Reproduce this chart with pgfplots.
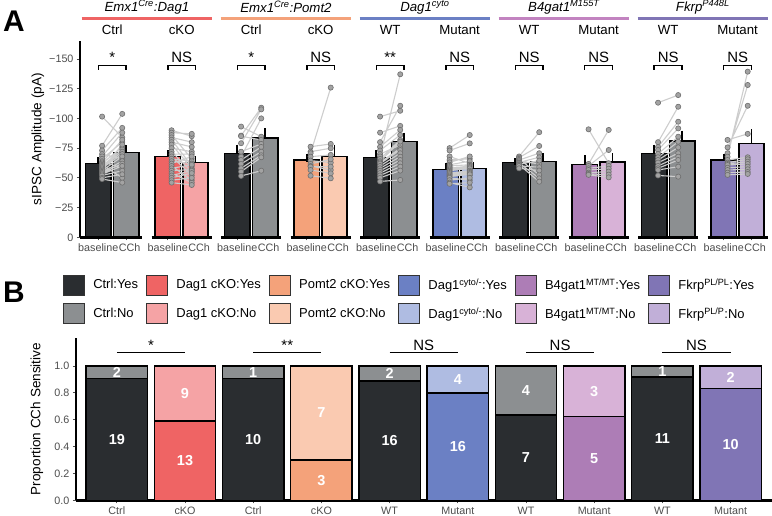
\documentclass[border=0pt]{standalone}
\usepackage{pgfplots}
\pgfplotsset{compat=1.18}
\usepackage{fontspec}
\setmainfont{Liberation Sans}
\definecolor{cDark}{HTML}{2A2D30}
\definecolor{cGray}{HTML}{8C8F91}
\definecolor{cRed}{HTML}{EF6464}
\definecolor{cPink}{HTML}{F5A3A5}
\definecolor{cOrange}{HTML}{F4A27A}
\definecolor{cPeach}{HTML}{FACAB1}
\definecolor{cBlue}{HTML}{6B80C4}
\definecolor{cLBlue}{HTML}{AFBCE2}
\definecolor{cPurple}{HTML}{AD7DB6}
\definecolor{cLPurple}{HTML}{D8B2D7}
\definecolor{cViolet}{HTML}{8075B5}
\definecolor{cLViolet}{HTML}{C1AFD8}
\definecolor{lB4}{HTML}{C283C0}
\definecolor{tickgray}{HTML}{4D4D4D}
\definecolor{ptfill}{HTML}{A3A3A3}
\definecolor{ptdraw}{HTML}{6E6E6E}
\definecolor{lngray}{HTML}{CDCDCD}
\pgfplotsset{
  barA/.style={ybar, bar width=0.365, bar shift=0pt, draw=black, line width=1.6bp, forget plot,
    error bars/y dir=minus, error bars/y explicit,
    error bars/error bar style={line width=1.6bp, black},
    error bars/error mark options={mark size=3.6bp, line width=1.6bp, black}},
  pts/.style={forget plot, color=lngray, line width=1.1bp, mark=*, mark size=2.6bp,
    mark options={fill=ptfill, draw=ptdraw, line width=0.6bp}, unbounded coords=jump},
  barB/.style={ybar, bar width=0.9, bar shift=0pt, draw=black, line width=1.4bp, forget plot},
}
\newcommand{\tickfont}{\fontsize{10.8}{12}\selectfont}
\newcommand{\hdfont}{\fontsize{13.3}{15}\selectfont}
\newcommand{\sigfont}{\fontsize{15}{15}\selectfont}
\newcommand{\bl}{baseline\hspace{6bp}}
\newcommand{\cc}{\hspace{7bp}CCh}
\begin{document}
\begin{tikzpicture}
\path[use as bounding box] (0,0) rectangle (772bp,516bp);
\node[font=\fontsize{30}{30}\selectfont\bfseries] at (14bp,495bp) {A};
\node[font=\fontsize{30}{30}\selectfont\bfseries] at (14bp,224bp) {B};

% ---------------- Panel A ----------------
\begin{axis}[
  anchor=south west, at={(80bp,278.7bp)},
  scale only axis, width=690.3bp, height=196.2bp,
  xmin=-0.463, xmax=9.47, ymin=-165, ymax=0, y dir=reverse,
  clip=false,
  axis y line*=left, axis x line*=bottom,
  x axis line style={draw=none},
  y axis line style={line width=2.5bp, black},
  xtick={-0.2,0.2,0.8,1.2,1.8,2.2,2.8,3.2,3.8,4.2,4.8,5.2,5.8,6.2,6.8,7.2,7.8,8.2,8.8,9.2},
  xticklabels={\bl,\cc,\bl,\cc,\bl,\cc,\bl,\cc,\bl,\cc,\bl,\cc,\bl,\cc,\bl,\cc,\bl,\cc,\bl,\cc},
  ytick={-150,-125,-100,-75,-50,-25,0},
  yticklabels={−150,−125,−100,−75,−50,−25,0},
  tick align=outside, major tick length=3bp, tick style={tickgray, line width=0.8bp},
  ticklabel style={font=\tickfont, text=tickgray},
  ylabel={sIPSC Amplitude (pA)},
  ylabel style={at={(axis description cs:-0.061,0.5)}, anchor=center, font=\fontsize{13.6}{15}\selectfont},
]
% axis segments
\addplot[black, line width=2.8bp, forget plot, unbounded coords=jump] coordinates {
(-0.463,0) (0.432,0) (0,nan) (0.568,0) (1.432,0) (0,nan) (1.568,0) (2.432,0) (0,nan)
(2.568,0) (3.432,0) (0,nan) (3.568,0) (4.432,0) (0,nan) (4.568,0) (5.432,0) (0,nan)
(5.568,0) (6.432,0) (0,nan) (6.568,0) (7.432,0) (0,nan) (7.568,0) (8.432,0) (0,nan)
(8.568,0) (9.432,0)};
% bars with SEM
\addplot[barA, fill=cDark] coordinates {(-0.2,-62.2) +- (0,2.2) (1.8,-70.6) +- (0,4.3) (3.8,-67.0) +- (0,3.0) (5.8,-62.8) +- (0,0.8) (7.8,-70.6) +- (0,4.3)};
\addplot[barA, fill=cGray] coordinates {(0.2,-71.2) +- (0,3.3) (2.2,-83.5) +- (0,5.1) (4.2,-80.4) +- (0,4.6) (6.2,-63.9) +- (0,3.9) (8.2,-81.0) +- (0,5.6)};
\addplot[barA, fill=cRed] coordinates {(0.8,-68.1) +- (0,2.2)};
\addplot[barA, fill=cPink] coordinates {(1.2,-62.8) +- (0,2.5)};
\addplot[barA, fill=cOrange] coordinates {(2.8,-64.8) +- (0,1.9)};
\addplot[barA, fill=cPeach] coordinates {(3.2,-68.1) +- (0,6.8)};
\addplot[barA, fill=cBlue] coordinates {(4.8,-56.9) +- (0,2.5)};
\addplot[barA, fill=cLBlue] coordinates {(5.2,-58.0) +- (0,2.2)};
\addplot[barA, fill=cPurple] coordinates {(6.8,-61.1) +- (0,4.8)};
\addplot[barA, fill=cLPurple] coordinates {(7.2,-63.1) +- (0,4.4)};
\addplot[barA, fill=cViolet] coordinates {(8.8,-64.8) +- (0,2.5)};
\addplot[barA, fill=cLViolet] coordinates {(9.2,-79.0) +- (0,8.7)};
% paired cells
\addplot[pts] coordinates {
(-0.145,-101.5) (0.145,-84) (0,nan) (-0.145,-77) (0.145,-103.8) (0,nan) (-0.145,-73) (0.145,-92) (0,nan)
(-0.145,-70) (0.145,-66) (0,nan) (-0.145,-68) (0.145,-88) (0,nan) (-0.145,-66) (0.145,-80) (0,nan)
(-0.145,-64) (0.145,-58) (0,nan) (-0.145,-63) (0.145,-82) (0,nan) (-0.145,-62) (0.145,-76) (0,nan)
(-0.145,-61) (0.145,-50) (0,nan) (-0.145,-60) (0.145,-74) (0,nan) (-0.145,-59) (0.145,-72) (0,nan)
(-0.145,-58) (0.145,-70) (0,nan) (-0.145,-57) (0.145,-78) (0,nan) (-0.145,-56) (0.145,-68) (0,nan)
(-0.145,-55) (0.145,-64) (0,nan) (-0.145,-54) (0.145,-62) (0,nan) (-0.145,-53) (0.145,-60) (0,nan)
(-0.145,-52) (0.145,-56) (0,nan) (-0.145,-50) (0.145,-53) (0,nan) (-0.145,-49) (0.145,-46)};
\addplot[pts] coordinates {
(0.855,-90) (1.145,-85) (0,nan) (0.855,-88) (1.145,-87) (0,nan) (0.855,-86) (1.145,-66) (0,nan)
(0.855,-84) (1.145,-80) (0,nan) (0.855,-82) (1.145,-60) (0,nan) (0.855,-80) (1.145,-76) (0,nan)
(0.855,-78) (1.145,-58) (0,nan) (0.855,-75) (1.145,-72) (0,nan) (0.855,-72) (1.145,-55) (0,nan)
(0.855,-70) (1.145,-70) (0,nan) (0.855,-68) (1.145,-52) (0,nan) (0.855,-66) (1.145,-64) (0,nan)
(0.855,-64) (1.145,-62) (0,nan) (0.855,-62) (1.145,-68) (0,nan) (0.855,-60) (1.145,-48) (0,nan)
(0.855,-58) (1.145,-61) (0,nan) (0.855,-56) (1.145,-57) (0,nan) (0.855,-54) (1.145,-46) (0,nan)
(0.855,-52) (1.145,-56) (0,nan) (0.855,-50) (1.145,-54) (0,nan) (0.855,-48) (1.145,-50) (0,nan)
(0.855,-46) (1.145,-44)};
\addplot[pts] coordinates {
(1.855,-93.1) (2.145,-84.6) (0,nan) (1.855,-85.5) (2.145,-109) (0,nan) (1.855,-85) (2.145,-81.9) (0,nan)
(1.855,-79.1) (2.145,-107.6) (0,nan) (1.855,-72) (2.145,-78.5) (0,nan) (1.855,-67.8) (2.145,-100) (0,nan)
(1.855,-65) (2.145,-76) (0,nan) (1.855,-61.7) (2.145,-72) (0,nan) (1.855,-58) (2.145,-69) (0,nan)
(1.855,-55.2) (2.145,-67.3) (0,nan) (1.855,-51.6) (2.145,-56)};
\addplot[pts] coordinates {
(2.855,-76.2) (3.145,-78.5) (0,nan) (2.855,-72) (3.145,-74.9) (0,nan) (2.855,-70.7) (3.145,-125.9) (0,nan)
(2.855,-67.8) (3.145,-69.3) (0,nan) (2.855,-64.5) (3.145,-62.8) (0,nan) (2.855,-61.7) (3.145,-65.6) (0,nan)
(2.855,-60) (3.145,-56.6) (0,nan) (2.855,-59.4) (3.145,-59.4) (0,nan) (2.855,-56.6) (3.145,-53.8) (0,nan)
(2.855,-51.8) (3.145,-49.6)};
\addplot[pts] coordinates {
(3.855,-101.5) (4.145,-106.4) (0,nan) (3.855,-88) (4.145,-93.7) (0,nan) (3.855,-80) (4.145,-110.6) (0,nan)
(3.855,-76) (4.145,-90.3) (0,nan) (3.855,-73) (4.145,-86.1) (0,nan) (3.855,-70) (4.145,-77.6) (0,nan)
(3.855,-68) (4.145,-137.1) (0,nan) (3.855,-66) (4.145,-81.9) (0,nan) (3.855,-64) (4.145,-80.5) (0,nan)
(3.855,-63) (4.145,-74.8) (0,nan) (3.855,-62) (4.145,-73.4) (0,nan) (3.855,-60) (4.145,-70.7) (0,nan)
(3.855,-58) (4.145,-67.8) (0,nan) (3.855,-56) (4.145,-65) (0,nan) (3.855,-54) (4.145,-62.3) (0,nan)
(3.855,-52) (4.145,-59.4) (0,nan) (3.855,-50) (4.145,-56.1) (0,nan) (3.855,-47) (4.145,-48.2)};
\addplot[pts] coordinates {
(4.855,-75) (5.145,-86) (0,nan) (4.855,-73) (5.145,-79) (0,nan) (4.855,-68) (5.145,-62) (0,nan)
(4.855,-65) (5.145,-66) (0,nan) (4.855,-63) (5.145,-68) (0,nan) (4.855,-61) (5.145,-64) (0,nan)
(4.855,-60) (5.145,-61) (0,nan) (4.855,-59) (5.145,-57) (0,nan) (4.855,-58) (5.145,-60) (0,nan)
(4.855,-57) (5.145,-59) (0,nan) (4.855,-56) (5.145,-58) (0,nan) (4.855,-55) (5.145,-52) (0,nan)
(4.855,-54) (5.145,-56) (0,nan) (4.855,-53) (5.145,-55) (0,nan) (4.855,-52) (5.145,-54) (0,nan)
(4.855,-51) (5.145,-53) (0,nan) (4.855,-50) (5.145,-48) (0,nan) (4.855,-48) (5.145,-50) (0,nan)
(4.855,-46) (5.145,-42) (0,nan) (4.855,-45) (5.145,-46)};
\addplot[pts] coordinates {
(5.855,-68) (6.145,-88.4) (0,nan) (5.855,-67) (6.145,-76.8) (0,nan) (5.855,-66) (6.145,-52.5) (0,nan)
(5.855,-65) (6.145,-70.7) (0,nan) (5.855,-64) (6.145,-61.7) (0,nan) (5.855,-63) (6.145,-67.3) (0,nan)
(5.855,-62.5) (6.145,-49.6) (0,nan) (5.855,-61.5) (6.145,-64.5) (0,nan) (5.855,-61) (6.145,-46.8) (0,nan)
(5.855,-60) (6.145,-59) (0,nan) (5.855,-58) (6.145,-56.2)};
\addplot[pts] coordinates {
(6.855,-90.8) (7.145,-62.3) (0,nan) (6.855,-61.7) (7.145,-90.3) (0,nan) (6.855,-60) (7.145,-73.4) (0,nan)
(6.855,-58) (7.145,-60) (0,nan) (6.855,-56.6) (7.145,-57.7) (0,nan) (6.855,-54.4) (7.145,-55.2) (0,nan)
(6.855,-53.3) (7.145,-52.7) (0,nan) (6.855,-52.5) (7.145,-50.4)};
\addplot[pts] coordinates {
(7.855,-113.2) (8.145,-119.6) (0,nan) (7.855,-80) (8.145,-109.8) (0,nan) (7.855,-76) (8.145,-97.2) (0,nan)
(7.855,-73.4) (8.145,-91.6) (0,nan) (7.855,-70.1) (8.145,-84.6) (0,nan) (7.855,-67.3) (8.145,-80.4) (0,nan)
(7.855,-65) (8.145,-75.6) (0,nan) (7.855,-62.8) (8.145,-70.7) (0,nan) (7.855,-60) (8.145,-67.8) (0,nan)
(7.855,-58) (8.145,-65) (0,nan) (7.855,-56.6) (8.145,-59.4) (0,nan) (7.855,-52) (8.145,-51)};
\addplot[pts] coordinates {
(8.855,-81.9) (9.145,-87) (0,nan) (8.855,-75.6) (9.145,-110.6) (0,nan) (8.855,-70.7) (9.145,-128.1) (0,nan)
(8.855,-67.8) (9.145,-139.3) (0,nan) (8.855,-65) (9.145,-67.3) (0,nan) (8.855,-62.8) (9.145,-65.6) (0,nan)
(8.855,-61.7) (9.145,-63.6) (0,nan) (8.855,-60.8) (9.145,-61.7) (0,nan) (8.855,-58.5) (9.145,-59.4) (0,nan)
(8.855,-56.6) (9.145,-57.2) (0,nan) (8.855,-54.4) (9.145,-54.9) (0,nan) (8.855,-52.5) (9.145,-53.3)};
% brackets
\foreach \c/\s in {0/*,1/NS,2/*,3/NS,4/**,5/NS,6/NS,7/NS,8/NS,9/NS}{
  \edef\tmp{\noexpand\draw[line width=1.5bp, black] (axis cs:\c-0.2,-140.8) -- (axis cs:\c-0.2,-144.3) -- (axis cs:\c+0.2,-144.3) -- (axis cs:\c+0.2,-140.8);
  \noexpand\node[anchor=base, font=\noexpand\sigfont, inner sep=0pt] at (axis cs:\c,-146.6) {\s};}
  \tmp
}
% headers
\foreach \c/\s in {0/Ctrl,1/cKO,2/Ctrl,3/cKO,4/WT,5/Mutant,6/WT,7/Mutant,8/WT,9/Mutant}{
  \edef\tmp{\noexpand\node[font=\noexpand\hdfont] at (axis cs:\c,-174.4) {\s};}
  \tmp
}
\draw[cRed, line width=3bp] (axis cs:-0.44,-184.4) -- (axis cs:1.44,-184.4);
\draw[cOrange, line width=3bp] (axis cs:1.56,-184.4) -- (axis cs:3.44,-184.4);
\draw[cBlue, line width=3bp] (axis cs:3.56,-184.4) -- (axis cs:5.44,-184.4);
\draw[lB4, line width=3bp] (axis cs:5.56,-184.4) -- (axis cs:7.44,-184.4);
\draw[cViolet, line width=3bp] (axis cs:7.56,-184.4) -- (axis cs:9.44,-184.4);
\node[font=\hdfont\itshape] at (axis cs:0.5,-193.5) {Emx1\textsuperscript{Cre}:Dag1};
\node[font=\hdfont\itshape] at (axis cs:2.5,-193.5) {Emx1\textsuperscript{Cre}:Pomt2};
\node[font=\hdfont\itshape] at (axis cs:4.5,-193.5) {Dag1\textsuperscript{cyto}};
\node[font=\hdfont\itshape] at (axis cs:6.5,-193.5) {B4gat1\textsuperscript{M155T}};
\node[font=\hdfont\itshape] at (axis cs:8.5,-193.5) {Fkrp\textsuperscript{P448L}};
\end{axis}

% ---------------- Panel B ----------------
\begin{axis}[
  anchor=south west, at={(75.9bp,15.7bp)},
  scale only axis, width=695.6bp, height=162.5bp,
  xmin=0.4, xmax=10.6, ymin=0, ymax=1.21,
  clip=false,
  axis x line*=bottom, axis y line*=left,
  axis line style={line width=2.5bp, black},
  xtick={1,2,3,4,5,6,7,8,9,10},
  xticklabels={Ctrl,cKO,Ctrl,cKO,WT,Mutant,WT,Mutant,WT,Mutant},
  ytick={0,0.2,0.4,0.6,0.8,1.0},
  yticklabels={0.0,0.2,0.4,0.6,0.8,1.0},
  tick align=outside, major tick length=3bp, tick style={tickgray, line width=0.8bp},
  ticklabel style={font=\tickfont, text=tickgray},
  ylabel={Proportion CCh Sensitive},
  ylabel style={at={(axis description cs:-0.056,0.5)}, anchor=center, font=\fontsize{13.6}{15}\selectfont},
  legend columns=6,
  legend cell align=left,
  legend image code/.code={\draw[#1] (0bp,-10bp) rectangle (21bp,10bp);},
  legend style={at={(axis description cs:-0.0186,1.3883)}, anchor=north west, draw=none, fill=none,
    inner sep=0pt, outer sep=0pt, nodes={inner sep=0pt}, font=\fontsize{13}{15}\selectfont, row sep=8bp,
    /tikz/every odd column/.append style={column sep=8.6bp},
    /tikz/every even column/.append style={column sep=8bp}},
]
\addlegendimage{fill=cDark, draw=black!80, line width=0.7bp}
\addlegendentry{Ctrl:Yes}
\addlegendimage{fill=cRed, draw=black!80, line width=0.7bp}
\addlegendentry{Dag1 cKO:Yes}
\addlegendimage{fill=cOrange, draw=black!80, line width=0.7bp}
\addlegendentry{Pomt2 cKO:Yes}
\addlegendimage{fill=cBlue, draw=black!80, line width=0.7bp}
\addlegendentry{Dag1\textsuperscript{cyto/-}:Yes}
\addlegendimage{fill=cPurple, draw=black!80, line width=0.7bp}
\addlegendentry{B4gat1\textsuperscript{MT/MT}:Yes}
\addlegendimage{fill=cViolet, draw=black!80, line width=0.7bp}
\addlegendentry{Fkrp\textsuperscript{PL/PL}:Yes}
\addlegendimage{fill=cGray, draw=black!80, line width=0.7bp}
\addlegendentry{Ctrl:No}
\addlegendimage{fill=cPink, draw=black!80, line width=0.7bp}
\addlegendentry{Dag1 cKO:No}
\addlegendimage{fill=cPeach, draw=black!80, line width=0.7bp}
\addlegendentry{Pomt2 cKO:No}
\addlegendimage{fill=cLBlue, draw=black!80, line width=0.7bp}
\addlegendentry{Dag1\textsuperscript{cyto/-}:No}
\addlegendimage{fill=cLPurple, draw=black!80, line width=0.7bp}
\addlegendentry{B4gat1\textsuperscript{MT/MT}:No}
\addlegendimage{fill=cLViolet, draw=black!80, line width=0.7bp}
\addlegendentry{Fkrp\textsuperscript{PL/P}:No}
% "No" portions (full height), then "Yes" portions on top
\addplot[barB, fill=cGray] coordinates {(1,1) (3,1) (5,1) (7,1) (9,1)};
\addplot[barB, fill=cPink] coordinates {(2,1)};
\addplot[barB, fill=cPeach] coordinates {(4,1)};
\addplot[barB, fill=cLBlue] coordinates {(6,1)};
\addplot[barB, fill=cLPurple] coordinates {(8,1)};
\addplot[barB, fill=cLViolet] coordinates {(10,1)};
\addplot[barB, fill=cDark] coordinates {(1,0.9048) (3,0.9091) (5,0.8889) (7,0.6364) (9,0.9167)};
\addplot[barB, fill=cRed] coordinates {(2,0.5909)};
\addplot[barB, fill=cOrange] coordinates {(4,0.3)};
\addplot[barB, fill=cBlue] coordinates {(6,0.8)};
\addplot[barB, fill=cPurple] coordinates {(8,0.625)};
\addplot[barB, fill=cViolet] coordinates {(10,0.8333)};
% counts
\addplot[forget plot, only marks, mark=none, point meta=explicit symbolic, nodes near coords,
  nodes near coords style={anchor=center, text=white, font=\fontsize{14.5}{15}\selectfont\bfseries, inner sep=0pt}]
coordinates {
(1,0.4524) [19] (1,0.9524) [2] (2,0.2955) [13] (2,0.7955) [9]
(3,0.4545) [10] (3,0.9545) [1] (4,0.15) [3] (4,0.65) [7]
(5,0.4444) [16] (5,0.9444) [2] (6,0.4) [16] (6,0.9) [4]
(7,0.3182) [7] (7,0.8182) [4] (8,0.3125) [5] (8,0.8125) [3]
(9,0.4583) [11] (9,0.9583) [1] (10,0.4167) [10] (10,0.9167) [2]};
% significance
\foreach \c/\s in {1/*,3/**,5/NS,7/NS,9/NS}{
  \edef\tmp{\noexpand\draw[line width=1bp, black] (axis cs:\c,1.099) -- (axis cs:\c+1,1.099);
  \noexpand\node[anchor=base, font=\noexpand\sigfont, inner sep=0pt] at (axis cs:\c+0.5,1.115) {\s};}
  \tmp
}
\end{axis}
\end{tikzpicture}
\end{document}
